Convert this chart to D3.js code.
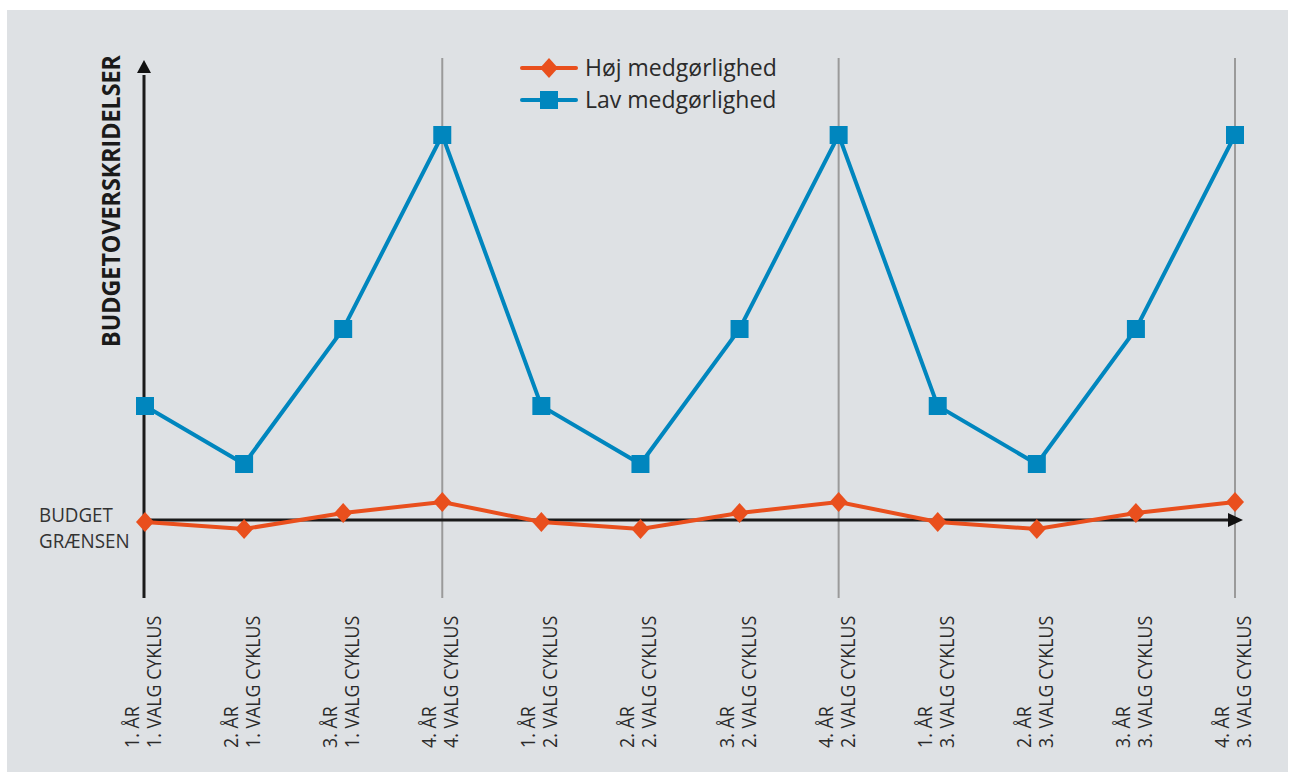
<!DOCTYPE html>
<html>
<head>
<meta charset="utf-8">
<script src="https://cdn.jsdelivr.net/npm/d3@7"></script>
<style>
  html, body { margin: 0; padding: 0; background: #fff; }
  text { font-family: 'Open Sans', sans-serif; }
</style>
</head>
<body>
<svg id="chart"></svg>
<script>
const W = 1291
const H = 772

/// data ////////////////////////////////
const years = ['1. ÅR', '2. ÅR', '3. ÅR', '4. ÅR', '1. ÅR', '2. ÅR', '3. ÅR', '4. ÅR', '1. ÅR', '2. ÅR', '3. ÅR', '4. ÅR']
const cycles = ['1. VALG CYKLUS', '1. VALG CYKLUS', '1. VALG CYKLUS', '4. VALG CYKLUS',
  '2. VALG CYKLUS', '2. VALG CYKLUS', '2. VALG CYKLUS', '2. VALG CYKLUS',
  '3. VALG CYKLUS', '3. VALG CYKLUS', '3. VALG CYKLUS', '3. VALG CYKLUS']
const hoj = [-0.02, -0.09, 0.07, 0.18, -0.02, -0.09, 0.07, 0.18, -0.02, -0.09, 0.07, 0.18]
const lav = [1.14, 0.56, 1.91, 3.85, 1.14, 0.56, 1.91, 3.85, 1.14, 0.56, 1.91, 3.85]
const gridAt = [3, 7, 11]
const seriesNames = ['Høj medgørlighed', 'Lav medgørlighed']
const budgetLines = ['BUDGET', 'GRÆNSEN']

const orange = '#e94f1d'
const blue = '#0086be'

const svg = d3.select('#chart').attr('width', W).attr('height', H)

// panel
svg.append('rect')
  .attr('x', 7).attr('y', 10)
  .attr('width', 1281).attr('height', H - 10)
  .attr('fill', '#dee1e4')

/// scales ////////////////////////////////
const idx = d3.range(years.length)
const xScale = d3.scalePoint().domain(idx).range([145, 1235])
const yScale = d3.scaleLinear().domain([-0.78, 4.6]).range([598, 60])
const x0 = 144

// vertical gridlines at 4th year
svg.selectAll('.grid')
  .data(gridAt)
  .enter()
  .append('line')
  .attr('class', 'grid')
  .attr('x1', d => xScale(d)).attr('x2', d => xScale(d))
  .attr('y1', 58).attr('y2', 598)
  .attr('stroke', '#9a9a9a')
  .attr('stroke-width', 2)

// y axis with arrow
svg.append('line')
  .attr('x1', x0).attr('x2', x0)
  .attr('y1', yScale(-0.78)).attr('y2', yScale(4.45))
  .attr('stroke', '#1a1a1a').attr('stroke-width', 3)
svg.append('path')
  .attr('d', `M${x0 - 7},${yScale(4.47)}L${x0},${yScale(4.6)}L${x0 + 7},${yScale(4.47)}Z`)
  .attr('fill', '#111')

// x axis (budget line) with arrow
const y0 = yScale(0)
svg.append('line')
  .attr('x1', x0).attr('x2', 1230)
  .attr('y1', y0).attr('y2', y0)
  .attr('stroke', '#1a1a1a').attr('stroke-width', 3)
svg.append('path')
  .attr('d', `M1228,${y0 - 7}L1243,${y0}L1228,${y0 + 7}Z`)
  .attr('fill', '#111')

/// lines ////////////////////////////////
const line = d3.line()
  .x((d, i) => xScale(i))
  .y(d => yScale(d))

svg.append('path')
  .attr('d', line(lav))
  .attr('fill', 'none')
  .attr('stroke', blue)
  .attr('stroke-width', 4)

svg.append('path')
  .attr('d', line(hoj))
  .attr('fill', 'none')
  .attr('stroke', orange)
  .attr('stroke-width', 4)

const sq = 18
svg.selectAll('.sq')
  .data(lav)
  .enter()
  .append('rect')
  .attr('class', 'sq')
  .attr('x', (d, i) => xScale(i) - sq / 2)
  .attr('y', d => yScale(d) - sq / 2)
  .attr('width', sq).attr('height', sq)
  .attr('fill', blue)

const diamond = 'M0,-10L9,0L0,10L-9,0Z'
svg.selectAll('.dia')
  .data(hoj)
  .enter()
  .append('path')
  .attr('class', 'dia')
  .attr('d', diamond)
  .attr('transform', (d, i) => `translate(${xScale(i)},${yScale(d)})`)
  .attr('fill', orange)

/// x labels ////////////////////////////////
const labels = svg.selectAll('.xlab')
  .data(idx)
  .enter()
  .append('text')
  .attr('class', 'xlab')
  .attr('transform', d => `translate(${xScale(d)},748) rotate(-90) scale(0.89,1)`)
  .attr('font-size', 20)
  .attr('fill', '#2b2b2b')
labels.append('tspan')
  .attr('x', 0).attr('y', -6)
  .text(d => years[d])
labels.append('tspan')
  .attr('x', 0).attr('y', 16)
  .text(d => cycles[d])

/// axis titles ////////////////////////////////
svg.append('text')
  .attr('transform', 'translate(120,347) rotate(-90)')
  .attr('font-size', 25)
  .attr('font-weight', 'bold')
  .attr('fill', '#1a1a1a')
  .attr('textLength', 292)
  .attr('lengthAdjust', 'spacingAndGlyphs')
  .text('BUDGETOVERSKRIDELSER')

svg.selectAll('.budget')
  .data(budgetLines)
  .enter()
  .append('text')
  .attr('class', 'budget')
  .attr('transform', (d, i) => `translate(39,${522 + i * 26}) scale(0.94,1)`)
  .attr('font-size', 20)
  .attr('fill', '#333')
  .text(d => d)

/// legend ////////////////////////////////
const legend = svg.selectAll('.legend')
  .data(seriesNames)
  .enter()
  .append('g')
  .attr('class', 'legend')
  .attr('transform', (d, i) => `translate(522,${68 + i * 32})`)

legend.append('line')
  .attr('x1', 0).attr('x2', 54)
  .attr('stroke', (d, i) => (i === 0 ? orange : blue))
  .attr('stroke-width', 4)
  .attr('stroke-linecap', 'round')

legend.filter((d, i) => i === 0)
  .append('path')
  .attr('d', diamond)
  .attr('transform', 'translate(27,0)')
  .attr('fill', orange)
legend.filter((d, i) => i === 1)
  .append('rect')
  .attr('x', 27 - sq / 2).attr('y', -sq / 2)
  .attr('width', sq).attr('height', sq)
  .attr('fill', blue)

legend.append('text')
  .attr('transform', 'translate(63,8)')
  .attr('font-size', 23)
  .attr('fill', '#2b2b2b')
  .text(d => d)
</script>
</body>
</html>
